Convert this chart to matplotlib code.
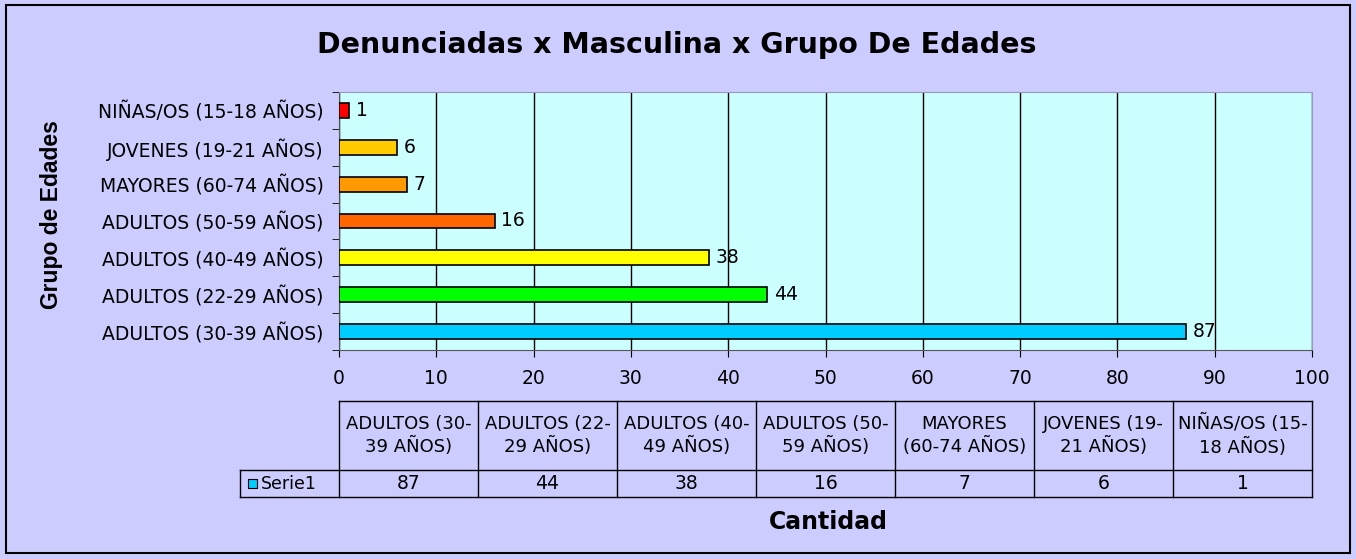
import matplotlib
matplotlib.use("Agg")
import matplotlib.pyplot as plt
from matplotlib.patches import Rectangle
from matplotlib.lines import Line2D

plt.rcParams['font.family'] = ['DejaVu Sans']

categories = ["ADULTOS (30-39 AÑOS)", "ADULTOS (22-29 AÑOS)", "ADULTOS (40-49 AÑOS)",
              "ADULTOS (50-59 AÑOS)", "MAYORES (60-74 AÑOS)", "JOVENES (19-21 AÑOS)",
              "NIÑAS/OS (15-18 AÑOS)"]
values = [87, 44, 38, 16, 7, 6, 1]
table_headers = ["ADULTOS (30-\n39 AÑOS)", "ADULTOS (22-\n29 AÑOS)", "ADULTOS (40-\n49 AÑOS)",
                 "ADULTOS (50-\n59 AÑOS)", "MAYORES\n(60-74 AÑOS)", "JOVENES (19-\n21 AÑOS)",
                 "NIÑAS/OS (15-\n18 AÑOS)"]
bar_colors = ["#00CCFF", "#00FF00", "#FFFF00", "#FF6600", "#FF9900", "#FFCC00", "#FF0000"]
series_name = "Serie1"
x_ticks = [0, 10, 20, 30, 40, 50, 60, 70, 80, 90, 100]

W, H = 1356, 559
fig = plt.figure(figsize=(W / 100, H / 100), dpi=100)
fig.patch.set_facecolor("#CCCCFF")

def fx(px):
    return px / W

def fy(py):
    return 1 - py / H

FS = 13.5

# outer border
fig.add_artist(Rectangle((fx(6), fy(553)), fx(1350) - fx(6), fy(5) - fy(553),
                         transform=fig.transFigure, fill=False, edgecolor="black", lw=1.5))

L, R, T, B = 339, 1312, 92, 350
ax = fig.add_axes([fx(L), fy(B), fx(R) - fx(L), fy(T) - fy(B)])
ax.set_facecolor("#CCFFFF")
ypos = list(range(len(categories)))
ax.barh(ypos, values, height=0.4, color=bar_colors, edgecolor="black", lw=1.2, zorder=3)
for y, v in zip(ypos, values):
    ax.text(v + 0.7, y, str(v), va="center", ha="left", fontsize=FS, zorder=4)
ax.set_xlim(0, 100)
ax.set_ylim(-0.5, len(categories) - 0.5)
ax.set_xticks(x_ticks)
ax.set_yticks(ypos)
ax.set_yticklabels(categories, fontsize=FS)
ax.set_yticks([i - 0.5 for i in range(len(categories) + 1)], minor=True)
ax.tick_params(axis="y", which="major", length=0, pad=11)
ax.tick_params(axis="y", which="minor", length=5, direction="out")
ax.tick_params(axis="x", labelsize=FS, length=5, direction="out", pad=9)
ax.grid(axis="x", color="black", lw=1, zorder=1)
for s in ["top", "right"]:
    ax.spines[s].set_color("#9999BB")
ax.spines["left"].set_color("#555555")
ax.spines["bottom"].set_color("#555555")

fig.text(fx(677), fy(45), "Denunciadas x Masculina x Grupo De Edades", ha="center", va="center",
         fontsize=20.5, fontweight="bold")
fig.text(fx(52), fy(215), "Grupo de Edades", ha="center", va="center", rotation=90,
         fontsize=16.5, fontweight="bold", family="Liberation Sans")
fig.text(fx(828), fy(522), "Cantidad", ha="center", va="center", fontsize=17, fontweight="bold")

# data table
top, mid, bot = 401, 470, 497
ncol = len(values)
cw = (R - L) / ncol
lw = 1.0
def hline(x0, x1, y):
    fig.add_artist(Line2D([fx(x0), fx(x1)], [fy(y), fy(y)], color="black", lw=lw,
                          transform=fig.transFigure))
def vline(x, y0, y1):
    fig.add_artist(Line2D([fx(x), fx(x)], [fy(y0), fy(y1)], color="black", lw=lw,
                          transform=fig.transFigure))
hline(L, R, top)
hline(240, R, mid)
hline(240, R, bot)
vline(240, mid, bot)
for i in range(ncol + 1):
    vline(L + i * cw, top, bot)
for i in range(ncol):
    cx = L + (i + 0.5) * cw
    fig.text(fx(cx), fy((top + mid) / 2), table_headers[i], ha="center", va="center",
             fontsize=FS - 0.5, linespacing=1.3)
    fig.text(fx(cx), fy((mid + bot) / 2), str(values[i]), ha="center", va="center", fontsize=FS)
fig.add_artist(Rectangle((fx(248), fy(488)), fx(9), fy(479) - fy(488), transform=fig.transFigure,
                         facecolor=bar_colors[0], edgecolor="black", lw=0.8))
fig.text(fx(261), fy(484), series_name, ha="left", va="center", fontsize=FS - 1)

fig.savefig("out.png", dpi=100, facecolor=fig.get_facecolor())
